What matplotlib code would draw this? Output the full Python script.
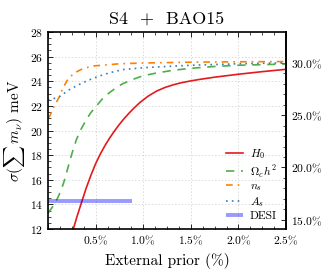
import matplotlib
matplotlib.use("Agg")
import matplotlib.pyplot as plt
from matplotlib.ticker import MultipleLocator, FixedLocator, FuncFormatter

plt.rcParams['font.family'] = 'serif'
plt.rcParams['font.serif'] = ['cmr10']
plt.rcParams['mathtext.fontset'] = 'cm'
plt.rcParams['axes.formatter.use_mathtext'] = True

# Data (external prior in %, sigma in meV)
h0_x = [0.266, 0.30, 0.36, 0.40, 0.45, 0.50, 0.55, 0.60, 0.65, 0.70, 0.75, 0.79, 0.85, 0.90,
        0.966, 1.05, 1.14, 1.23, 1.32, 1.40, 1.50, 1.60, 1.75, 2.0, 2.25, 2.5]
h0_y = [12.0, 12.9, 14.35, 15.3, 16.35, 17.3, 18.1, 18.8, 19.42, 19.98, 20.5, 20.88, 21.4, 21.8,
        22.28, 22.78, 23.2, 23.5, 23.72, 23.88, 24.03, 24.16, 24.33, 24.57, 24.78, 24.97]

och2_x = [0.0, 0.03, 0.06, 0.10, 0.14, 0.17, 0.21, 0.25, 0.30, 0.35, 0.40, 0.45, 0.52, 0.58,
          0.65, 0.72, 0.79, 0.88, 0.97, 1.05, 1.14, 1.32, 1.5, 1.75, 2.0, 2.25, 2.5]
och2_y = [13.3, 13.6, 13.95, 14.5, 15.2, 15.9, 17.0, 18.1, 19.3, 20.15, 20.85, 21.45, 22.1, 22.65,
          23.1, 23.5, 23.82, 24.12, 24.37, 24.53, 24.67, 24.9, 25.05, 25.2, 25.3, 25.35, 25.4]

ns_x = [0.0, 0.02, 0.06, 0.12, 0.15, 0.2, 0.27, 0.36, 0.47, 0.57, 0.75, 1.0, 1.5, 2.0, 2.5]
ns_y = [21.0, 21.2, 21.9, 22.75, 23.35, 24.05, 24.65, 25.0, 25.24, 25.3, 25.42, 25.48, 25.55, 25.58, 25.6]

as_x = [0.0, 0.03, 0.13, 0.22, 0.33, 0.43, 0.53, 0.65, 0.79, 1.0, 1.25, 1.5, 2.0, 2.5]
as_y = [22.45, 22.5, 22.8, 23.3, 23.75, 24.1, 24.4, 24.7, 24.95, 25.1, 25.2, 25.3, 25.42, 25.5]

desi_x = [0.0, 0.88]
desi_y = [14.3, 14.3]

right_ticks = [15, 20, 25, 30]
ref_sum = 85.0  # meV, for the right-hand percentage axis

fig = plt.figure(figsize=(3.3, 2.75), dpi=100)
ax = fig.add_axes([0.1455, 0.1673, 0.7212, 0.7163])

ax.plot(h0_x, h0_y, color='#e41a1c', lw=1.2, label=r'$H_0$')
ax.plot(och2_x, och2_y, color='#4daf4a', lw=1.2, ls=(0, (5, 4)), label=r'$\Omega_c h^2$')
ax.plot(ns_x, ns_y, color='#ff7f00', lw=1.2, ls=(0, (4, 3, 1, 3)), label=r'$n_s$')
ax.plot(as_x, as_y, color='#377eb8', lw=1.2, ls=(0, (1, 2.5)), label=r'$A_s$')
ax.plot(desi_x, desi_y, color=(0.0, 0.0, 1.0, 0.4), lw=2.8, solid_capstyle='butt', label='DESI')

ax.set_xlim(0, 2.5)
ax.set_ylim(12, 28)
ax.xaxis.set_major_locator(MultipleLocator(0.5))
ax.xaxis.set_minor_locator(MultipleLocator(0.125))
ax.yaxis.set_major_locator(MultipleLocator(2))
ax.yaxis.set_minor_locator(MultipleLocator(0.5))
ax.xaxis.set_major_formatter(FuncFormatter(lambda v, p: '' if v < 0.01 else r'$%.1f\%%$' % v))
ax.yaxis.set_major_formatter(FuncFormatter(lambda v, p: r'$%d$' % v))
ax.tick_params(which='both', direction='in', top=True, right=False, labelsize=8.3)
ax.tick_params(which='major', length=3.5, width=0.6)
ax.tick_params(which='minor', length=2, width=0.5)
ax.grid(True, which='major', color='#d0d0d0', ls=(0, (1.5, 2.5)), lw=0.6)
for s in ax.spines.values():
    s.set_linewidth(1.2)

sec = ax.secondary_yaxis('right', functions=(lambda y: y / ref_sum * 100, lambda p: p * ref_sum / 100))
sec.yaxis.set_major_locator(FixedLocator(right_ticks))
sec.yaxis.set_minor_locator(FixedLocator(list(range(15, 31))))
sec.yaxis.set_major_formatter(FuncFormatter(lambda v, p: r'$%.1f\%%$' % v))
sec.tick_params(which='both', direction='in', labelsize=8.3)
sec.tick_params(which='major', length=3.5, width=0.6)
sec.tick_params(which='minor', length=2, width=0.5)
sec.spines['right'].set_linewidth(1.2)

ax.set_xlabel('External prior (%)', fontsize=11, labelpad=4)
ax.set_ylabel(r'$\sigma(\sum\, m_\nu)$ meV', fontsize=11, labelpad=2)
ax.set_title('S4  +  BAO15', fontsize=13, pad=6)

ax.legend(loc='lower right', frameon=False, fontsize=8.3, handlelength=1.5,
          handletextpad=0.6, labelspacing=0.15, borderaxespad=0.3,
          bbox_to_anchor=(0.995, 0.0))

fig.savefig('out.png', dpi=100)
